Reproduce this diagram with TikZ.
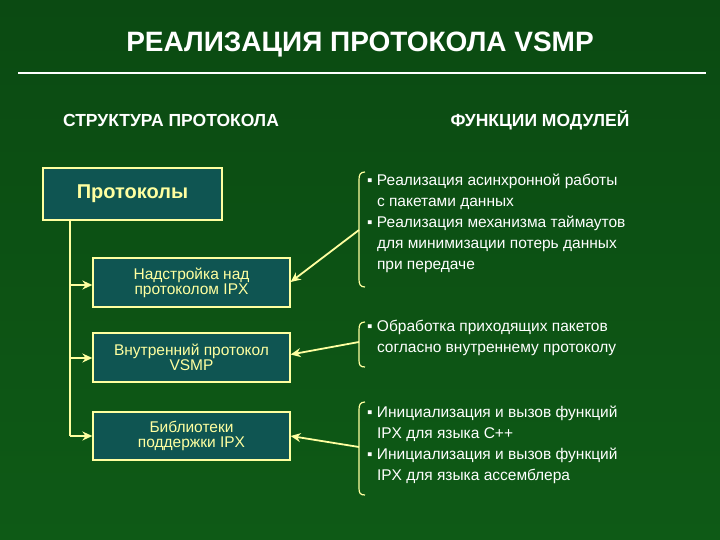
\documentclass[tikz,border=0pt]{standalone}
\usepackage{fontspec}
\setmainfont{Liberation Sans}
\usetikzlibrary{arrows.meta}
\definecolor{bg}{HTML}{0B4A12}
\definecolor{bgb}{HTML}{0E5A16}
\definecolor{pale}{HTML}{FFFFA0}
\definecolor{boxc}{HTML}{0F5552}
\begin{document}
\begin{tikzpicture}[x=1pt,y=-1pt,
  bx/.style={draw=pale,line width=1.3pt,fill=boxc,text=pale,align=center,inner sep=0pt},
  rt/.style={anchor=north west,text=white,align=left,font=\fontsize{15.5}{21}\selectfont,inner sep=0pt},
  con/.style={draw=pale,line width=1.8pt,-{Stealth[length=10pt,width=9pt]}},
  brk/.style={draw=pale,line width=1.2pt}]
\useasboundingbox (0,0) rectangle (720,540);
\shade[top color=bg,bottom color=bgb] (0,0) rectangle (720,540);
\node[text=white,font=\bfseries\fontsize{28}{30}\selectfont] (title) at (360,45) {РЕАЛИЗАЦИЯ ПРОТОКОЛА VSMP};
\draw[white,line width=2pt] (18,73) -- (706,73);
\node[text=white,font=\bfseries\fontsize{17.5}{20}\selectfont] (h1) at (171,120) {СТРУКТУРА ПРОТОКОЛА};
\node[text=white,font=\bfseries\fontsize{17.5}{20}\selectfont] (h2) at (540,120) {ФУНКЦИИ МОДУЛЕЙ};
\node[bx,minimum width=179,minimum height=52,font=\bfseries\fontsize{20}{22}\selectfont] (p) at (132.5,194) {Протоколы};
\node[bx,minimum width=197,minimum height=49,font=\fontsize{15.5}{15}\selectfont] (b1) at (191.5,282.5) {Надстройка над\\протоколом IPX};
\node[bx,minimum width=197,minimum height=49,font=\fontsize{15.5}{15}\selectfont] (b2) at (191.5,357.5) {Внутренний протокол\\VSMP};
\node[bx,minimum width=197,minimum height=48,font=\fontsize{15.5}{15}\selectfont] (b3) at (191.5,436) {Библиотеки\\поддержки IPX};
\coordinate (t) at (70,220);
\draw[pale,line width=1.8pt] (t) -- (70,436);
\draw[con] (70,285) -- (b1.west|-70,285);
\draw[con] (70,358) -- (b2.west|-70,358);
\draw[con] (70,436) -- (b3.west);
\node[rt] (r1) at (367,174) {▪ Реализация асинхронной работы\\\phantom{▪ }с пакетами данных\\▪ Реализация механизма таймаутов\\\phantom{▪ }для минимизации потерь данных\\\phantom{▪ }при передаче};
\node[rt] (r2) at (367,320) {▪ Обработка приходящих пакетов\\\phantom{▪ }согласно внутреннему протоколу};
\node[rt] (r3) at (367,406) {▪ Инициализация и вызов функций\\\phantom{▪ }IPX для языка С++\\▪ Инициализация и вызов функций\\\phantom{▪ }IPX для языка ассемблера};
\draw[brk] (365,172) .. controls (360,172) and (359,175) .. (359,180) -- (359,279) .. controls (359,284) and (360,287) .. (365,287);
\draw[brk] (365,322) .. controls (360,322) and (359,325) .. (359,330) -- (359,360) .. controls (359,365) and (360,367) .. (365,367);
\draw[brk] (365,402) .. controls (360,402) and (359,405) .. (359,410) -- (359,488) .. controls (359,493) and (360,495) .. (365,495);
\coordinate (c1) at (359,230);
\coordinate (c2) at (359,342);
\coordinate (c3) at (359,447);
\draw[con] (c1) -- (b1.east|-0,282);
\draw[con] (c2) -- ([yshift=3pt]b2.east);
\draw[con] (c3) -- (b3.east);
\end{tikzpicture}
\end{document}
